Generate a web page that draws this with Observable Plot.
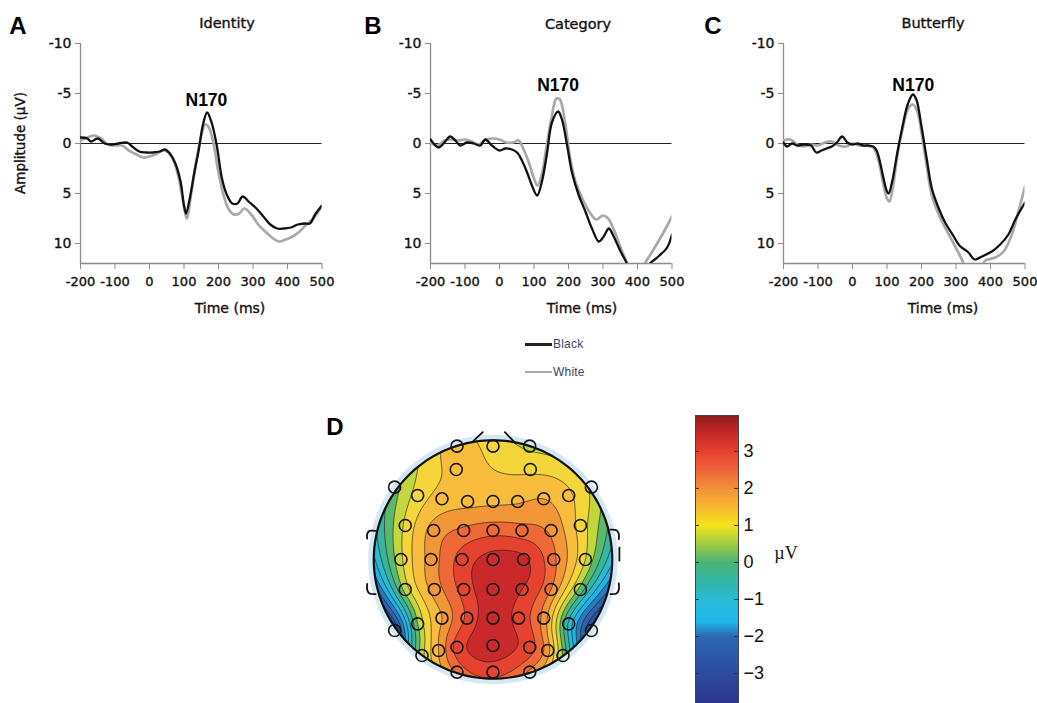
<!DOCTYPE html>
<html><head><meta charset="utf-8">
<script src="https://cdn.jsdelivr.net/npm/d3@7"></script>
<script src="https://cdn.jsdelivr.net/npm/@observablehq/plot@0.6"></script>
<style>
body{margin:0;background:#fff;}
#fig{position:relative;width:1037px;height:703px;overflow:hidden;background:#fff;font-family:"DejaVu Sans",sans-serif;color:#111;}
.lbl{position:absolute;white-space:nowrap;transform:translate(-50%,-50%);}
.letter{font-family:"Liberation Sans",Arial,sans-serif;font-weight:bold;font-size:24px;color:#000;}
.title{font-size:14.5px;-webkit-text-stroke:0.35px #111;}
.xlab{font-size:14px;-webkit-text-stroke:0.35px #111;}
.leg{position:absolute;left:525px;font-family:"Liberation Sans",Arial,sans-serif;font-size:12px;letter-spacing:0.2px;color:#3d4262;display:flex;align-items:center;}
.leg span.sw{display:inline-block;width:27px;margin-right:1px;}
svg.erp g[aria-label$="tick label"] text{stroke:#111;stroke-width:0.35px;}
</style>
</head><body>
<div id="fig"></div>
<script>
// ---------------- DATA ----------------
const xTicks = [-200, -100, 0, 100, 200, 300, 400, 500];
const yTicks = [-10, -5, 0, 5, 10];
const seriesNames = ["Black", "White"];
const panelLetters = ["A", "B", "C", "D"];
const panelTitles = ["Identity", "Category", "Butterfly"];
const xLabel = "Time (ms)";
const yLabel = "Amplitude (µV)";
const peakLabel = "N170";
const peakTime = [165, 170, 176];
const peakAmp = [-4.3, -5.8, -5.8];

// Panel A – Identity
const identityBlackT = [-200,-180,-170,-150,-130,-110,-90,-65,-50,-30,-10,10,30,45,60,75,90,100,106,115,130,143,155,167,180,195,210,225,240,255,270,290,310,330,350,370,390,410,430,450,465,480,500];
const identityBlackV = [-0.6,-0.5,-0.2,-0.5,0,0.1,0,-0.1,0.3,0.8,0.9,0.9,0.8,0.6,1.05,2.0,3.8,6.2,7.0,5.8,2.9,0.6,-1.9,-3.1,-2.1,0.2,3.5,5.2,6.0,6.0,5.3,5.9,6.5,7.3,8.1,8.5,8.5,8.4,8.1,8.0,8.0,7.1,6.2];
const identityWhiteT = [-200,-180,-160,-140,-120,-100,-80,-60,-40,-20,0,20,40,55,70,85,100,108,120,135,150,162,172,185,200,215,230,245,260,275,295,315,335,355,375,395,415,435,455,475,500];
const identityWhiteV = [-0.3,-0.6,-0.8,-0.5,0.1,0.2,0.2,0.7,1.05,1.4,1.3,1.05,0.7,0.9,1.7,3.5,6.3,7.5,5.2,1.9,-0.8,-1.9,-1.6,-0.1,2.9,5.2,6.6,7.1,7.0,6.5,7.1,8.1,8.8,9.4,9.8,9.6,9.3,8.8,8.1,7.5,6.2];

// Panel B – Category
const categoryBlackT = [-200,-177,-162,-143,-128,-114,-95,-75,-56,-41,-22,0,17,36,51,65,80,94,109,123,138,152,170,181,196,210,230,249,268,288,302,317,331,351,365,380,400,420,433,450,462,486,500];
const categoryBlackV = [-0.4,0.4,0,-0.7,-0.3,0.2,-0.1,0,0.2,-0.4,0.2,0.7,0.5,0.6,0.9,1.7,2.9,4.2,5.2,3.8,0.9,-2.1,-3.2,-2.4,0.2,2.9,5.2,6.8,8.5,9.8,9.3,8.5,9.3,10.8,11.7,12.6,13.0,12.6,12.1,11.6,11.25,10.4,9.1];
const categoryWhiteT = [-200,-180,-160,-140,-120,-100,-80,-60,-40,-20,0,20,40,55,70,85,100,110,122,135,150,165,175,190,205,220,240,260,280,300,315,330,350,365,380,400,423,443,472,500];
const categoryWhiteV = [-0.1,0.2,-0.3,-0.4,-0.3,-0.4,-0.2,0.1,-0.4,-0.5,-0.4,-0.1,-0.1,-0.3,0.6,1.9,3.5,4.2,3.2,0.6,-2.4,-4.5,-4.4,-2.1,1.5,3.8,5.5,6.8,7.6,7.2,7.5,8.5,10.3,11.6,12.6,13.2,11.9,10.8,9.1,7.3];

// Panel C – Butterfly
const butterflyBlackT = [-200,-190,-175,-160,-140,-120,-105,-90,-75,-60,-45,-30,-15,0,15,30,45,60,70,80,90,100,105,115,130,145,160,175,185,200,215,230,250,270,290,310,336,354,375,404,428,452,472,500];
const butterflyBlackV = [-0.1,0.3,0,0.2,0.1,0.2,0.9,0.7,0.5,0.3,-0.1,-0.7,-0.1,0.1,0,0.2,0.2,0.3,0.7,1.9,3.5,4.8,5.0,3.8,0.9,-1.7,-3.9,-4.9,-4.4,-1.7,1.5,4.5,6.5,8.0,9.1,10.2,10.9,11.6,11.3,10.8,10.1,9.1,7.6,5.9];
const butterflyWhiteT = [-200,-180,-160,-140,-120,-100,-80,-60,-40,-20,0,20,40,60,70,80,90,100,107,118,130,145,160,175,188,200,215,230,250,270,290,310,330,350,370,385,414,438,462,481,500];
const butterflyWhiteV = [-0.3,-0.4,0.1,0.3,0.1,0.2,-0.1,-0.2,0.2,0.3,0,0.2,0.2,0.4,1.05,2.4,4.2,5.5,5.8,4.2,1.2,-1.4,-3.4,-3.9,-3.2,-1.1,2.2,5.2,7.1,8.5,9.8,11.1,12.4,12.8,12.4,11.7,11.4,10.8,9.1,6.8,4.3];

// Panel D – scalp map: electrode positions (head-radius units, anterior up) and amplitudes (µV)
const electrodeNames = ["Fp1","Fpz","Fp2","AF3","AF4","LU","RU","F7","F5","F3","Fz","F4","F6","F8","FT7","FC5","FC3","FCz","FC4","FC6","FT8","T7","C5","C3","Cz","C4","C6","T8","TP7","CP5","CP3","CPz","CP4","CP6","TP8","P7","P5","P3","Pz","P4","P6","P8","LL","RL","PO9","PO7","PO3","POz","PO4","PO8","PO10","O1","Oz","O2"];
const electrodeX = [-0.302,0,0.308,-0.308,0.313,-0.825,0.825,-0.632,-0.428,-0.213,0,0.207,0.425,0.635,-0.736,-0.498,-0.246,0,0.243,0.487,0.733,-0.772,-0.52,-0.26,0,0.257,0.509,0.775,-0.736,-0.492,-0.246,0,0.243,0.487,0.733,-0.632,-0.428,-0.218,0,0.215,0.425,0.635,-0.825,0.825,-0.596,-0.456,-0.302,0,0.308,0.459,0.587,-0.302,0,0.308];
const electrodeY = [0.951,0.951,0.951,0.755,0.755,0.607,0.607,0.537,0.509,0.487,0.487,0.487,0.509,0.537,0.285,0.243,0.243,0.243,0.243,0.243,0.285,0,0,0,0,0,0,0,-0.252,-0.252,-0.252,-0.252,-0.252,-0.252,-0.252,-0.54,-0.492,-0.492,-0.492,-0.492,-0.492,-0.54,-0.596,-0.596,-0.806,-0.764,-0.736,-0.722,-0.736,-0.764,-0.806,-0.945,-0.945,-0.945];
const electrodeV = [1.7,1.3,0.9,1.6,1.4,0.3,0.9,1.2,1.7,1.85,1.9,1.95,2.0,1.6,1.1,2.2,2.6,2.8,2.7,2.4,1.3,0.9,2.2,3.2,3.7,3.6,2.6,1.0,0.7,2.2,3.2,3.8,3.5,2.5,0.3,0.5,2.0,3.1,3.8,3.3,2.3,-0.6,-3.0,-3.0,0.8,2.0,3.2,3.75,3.2,2.2,0.4,2.6,3.2,2.4];
const contourLevels = [-6,-5.5,-5,-4.5,-4,-3.5,-3,-2.5,-2,-1.5,-1,-0.5,0,0.5,1,1.5,2,2.5,3,3.5];
const bandColors = ["#272a80","#272a80","#292d85","#2a3088","#2b378f","#2d4499","#2d52a3","#2c62ae","#2a7ac0","#22b2e6","#2abbd3","#38b59f","#5cb86a","#c2d73e","#f4d53a","#f9bd3e","#f39638","#ee6838","#e5432f","#c9292a"];
const colorbarTicks = [-3,-2,-1,0,1,2,3];
const colorbarUnit = "µV";
const jetValues = [-4,-3,-2,-1.6,-1,-0.5,0,0.5,1,1.5,2,2.5,3,3.5,4];
const jetColors = ["#2b2f88","#2d4c9f","#2c68b2","#1fb8ec","#29bbd6","#33b5a6","#4ab477","#a2cb42","#f3e51d","#f8b72f","#f39139","#ee643a","#e8402f","#c42a29","#8b1b1b"];
// head schematic outlines (head-radius units)
const noseLeft = [[-0.174,0.984],[-0.086,1.068]];
const noseRight = [[0.189,0.976],[0.099,1.068]];
const earPieces = [
  [[-0.985,0.24],[-1.035,0.24],[-1.055,0.215],[-1.055,0.175]],
  [[-1.055,-0.205],[-1.055,-0.255],[-1.035,-0.285],[-0.985,-0.29]],
  [[0.985,0.25],[1.035,0.245],[1.055,0.215],[1.055,0.17]],
  [[1.06,0.1],[1.06,-0.01]],
  [[1.055,-0.2],[1.055,-0.255],[1.035,-0.285],[0.985,-0.29]]
];

// ---------------- BUILD ----------------
const fig = document.getElementById("fig");
function add(el, left, top) { el.style.position = "absolute"; el.style.left = left + "px"; el.style.top = top + "px"; fig.appendChild(el); return el; }
function label(text, x, y, cls, extra) {
  const d = document.createElement("div"); d.className = "lbl " + cls; d.textContent = text;
  d.style.left = x + "px"; d.style.top = y + "px"; if (extra) Object.assign(d.style, extra); fig.appendChild(d); return d;
}

function erpPanel(bT, bV, wT, wV, pi, width, marginLeft) {
  const black = bT.map((t, i) => ({t, v: bV[i]}));
  const white = wT.map((t, i) => ({t, v: wV[i]}));
  return Plot.plot({
    className: "erp",
    width, height: 330, marginLeft, marginRight: width - marginLeft - 241.5, marginTop: 43, marginBottom: 67,
    style: {fontFamily: "DejaVu Sans", fontSize: "13px", color: "#111", background: "transparent"},
    x: {domain: [-200, 500]},
    y: {domain: [-10, 12], reverse: true},
    marks: [
      Plot.ruleY([0], {stroke: "#222", strokeWidth: 1}),
      Plot.ruleX([-200], {stroke: "#8c8c8c", strokeWidth: 1.3}),
      Plot.ruleY([12], {stroke: "#8c8c8c", strokeWidth: 1.3}),
      Plot.axisX({ticks: xTicks, tickSize: 6, tickPadding: 7, tickFormat: d => String(d), stroke: "#8c8c8c", label: null}),
      Plot.axisY({ticks: yTicks, tickSize: 5, tickPadding: 4, tickFormat: d => String(d), stroke: "#8c8c8c", label: null, fontSize: 14}),
      Plot.line(white, {x: "t", y: "v", stroke: "#a9a9a9", strokeWidth: 2.7, curve: "catmull-rom", clip: true}),
      Plot.line(black, {x: "t", y: "v", stroke: "#111", strokeWidth: 2.3, curve: "catmull-rom", clip: true}),
      Plot.text([{t: peakTime[pi], v: peakAmp[pi]}], {x: "t", y: "v", text: () => peakLabel, fontWeight: "bold", fontSize: 17.5, fontFamily: "Liberation Sans", fill: "#000"})
    ]
  });
}

add(erpPanel(identityBlackT, identityBlackV, identityWhiteT, identityWhiteV, 0, 340, 80), 0, 0);
add(erpPanel(categoryBlackT, categoryBlackV, categoryWhiteT, categoryWhiteV, 1, 365, 90), 340, 0);
add(erpPanel(butterflyBlackT, butterflyBlackV, butterflyWhiteT, butterflyWhiteV, 2, 357, 103), 680, 0);

label(panelLetters[0], 18, 26, "letter");
label(panelLetters[1], 373, 26, "letter");
label(panelLetters[2], 713, 26, "letter");
label(panelLetters[3], 335, 427, "letter");
label(panelTitles[0], 227, 23, "title");
label(panelTitles[1], 578, 24, "title");
label(panelTitles[2], 933, 23, "title");
label(xLabel, 230, 308, "xlab");
label(xLabel, 582, 308, "xlab");
label(xLabel, 943, 308, "xlab");
label(yLabel, 20, 143, "xlab", {transform: "translate(-50%,-50%) rotate(-90deg)", fontSize: "13.5px"});

// legend
[[seriesNames[0], 344, "#222", 3], [seriesNames[1], 372, "#a9a9a9", 2.4]].forEach(([name, y, c, w]) => {
  const d = document.createElement("div"); d.className = "leg"; d.style.top = (y - 8) + "px"; d.style.height = "16px";
  const sw = document.createElement("span"); sw.className = "sw"; sw.style.borderTop = w + "px solid " + c;
  d.appendChild(sw); d.appendChild(document.createTextNode(name)); fig.appendChild(d);
});

// scalp map: biharmonic spline surface through the electrode values (as in EEGLAB topoplot)
function biharmonicField(px, py, pv) {
  const n = px.length, s = 0.5;
  const g = d => d === 0 ? 0 : d * d * (Math.log(d) - 1);
  const A = px.map((_, i) => px.map((_, j) => g(s * Math.hypot(px[i] - px[j], py[i] - py[j]))));
  const b = pv.slice();
  for (let c = 0; c < n; c++) {
    let p = c; for (let r = c + 1; r < n; r++) if (Math.abs(A[r][c]) > Math.abs(A[p][c])) p = r;
    [A[c], A[p]] = [A[p], A[c]]; [b[c], b[p]] = [b[p], b[c]];
    for (let r = c + 1; r < n; r++) { const f = A[r][c] / A[c][c]; if (!f) continue; for (let k = c; k < n; k++) A[r][k] -= f * A[c][k]; b[r] -= f * b[c]; }
  }
  const w = new Array(n);
  for (let r = n - 1; r >= 0; r--) { let sum = b[r]; for (let k = r + 1; k < n; k++) sum -= A[r][k] * w[k]; w[r] = sum / A[r][r]; }
  return (x, y) => { let v = 0; for (let i = 0; i < n; i++) v += w[i] * g(s * Math.hypot(x - px[i], y - py[i])); return v; };
}
const field = biharmonicField(electrodeX, electrodeY, electrodeV);
const electrodes = electrodeNames.map((name, i) => ({name, x: electrodeX[i], y: electrodeY[i], v: electrodeV[i]}));
const headOutline = d3.range(0, 361, 2).map(a => ({x: Math.cos(a * Math.PI / 180), y: Math.sin(a * Math.PI / 180)}));

const topo = Plot.plot({
  width: 340, height: 303, marginLeft: 17.5, marginRight: 12.5, marginTop: 10, marginBottom: 1,
  style: {background: "transparent"},
  x: {domain: [-1.3, 1.3], axis: null},
  y: {domain: [-1.2, 1.25], axis: null},
  color: {type: "threshold", domain: contourLevels, range: [bandColors[0], ...bandColors]},
  marks: [
    Plot.line(headOutline, {x: "x", y: "y", stroke: "#d4e7f4", strokeWidth: 11}),
    Plot.contour({fill: field, x1: -1.03, x2: 1.03, y1: -1.03, y2: 1.03, thresholds: contourLevels, stroke: "#1c1c1c", strokeWidth: 0.75, strokeOpacity: 0.85}),
    Plot.line(headOutline, {x: "x", y: "y", stroke: "#111", strokeWidth: 2.2}),
    Plot.line(noseLeft, {x: d => d[0], y: d => d[1], stroke: "#111", strokeWidth: 1.8}),
    Plot.line(noseRight, {x: d => d[0], y: d => d[1], stroke: "#111", strokeWidth: 1.8}),
    ...earPieces.map(p => Plot.line(p, {x: d => d[0], y: d => d[1], stroke: "#111", strokeWidth: 1.8, curve: "catmull-rom"})),
    Plot.dot(electrodes, {x: "x", y: "y", r: 6, stroke: "#151515", strokeWidth: 1.6, fill: "none"})
  ]
});
add(topo, 320, 400);
{
  const sx = topo.scale("x"), sy = topo.scale("y");
  const cx = sx.apply(0), cy = sy.apply(0), r = sx.apply(1) - cx;
  const ns = "http://www.w3.org/2000/svg";
  const defs = document.createElementNS(ns, "defs");
  const cp = document.createElementNS(ns, "clipPath"); cp.setAttribute("id", "headclip");
  const c = document.createElementNS(ns, "circle"); c.setAttribute("cx", cx); c.setAttribute("cy", cy); c.setAttribute("r", r);
  cp.appendChild(c); defs.appendChild(cp); topo.insertBefore(defs, topo.firstChild);
  const g = topo.querySelector('g[aria-label="contour"]'); if (g) g.setAttribute("clip-path", "url(#headclip)");
}

// colorbar
const cbar = Plot.plot({
  width: 180, height: 303, marginLeft: 35, marginRight: 102, marginTop: 15, marginBottom: 0,
  style: {background: "transparent", fontFamily: "Liberation Sans", fontSize: "18px", color: "#111"},
  x: {domain: [0, 1], axis: null},
  y: {domain: [-3.81, 3.97], axis: null},
  color: {type: "linear", domain: jetValues, range: jetColors, clamp: true},
  marks: [
    Plot.raster({fill: (x, y) => y, x1: 0, x2: 1, y1: -3.81, y2: 3.97, pixelSize: 1}),
    Plot.ruleY(colorbarTicks, {x1: 0, x2: 0.09, stroke: "#333", strokeWidth: 1}),
    Plot.ruleY(colorbarTicks, {x1: 0.91, x2: 1, stroke: "#333", strokeWidth: 1}),
    Plot.frame({stroke: "#444", strokeWidth: 1}),
    Plot.axisY({anchor: "right", ticks: colorbarTicks, tickSize: 0, tickPadding: 5, label: null})
  ]
});
add(cbar, 660, 400);
label(colorbarUnit, 786, 553, "", {fontFamily: "Liberation Serif, DejaVu Serif, serif", fontSize: "18px"});
</script>
</body></html>
